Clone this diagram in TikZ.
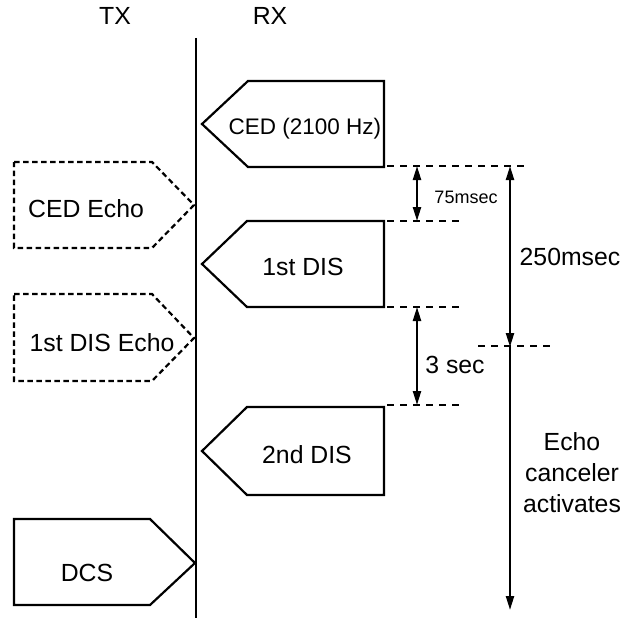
\documentclass[tikz,border=0pt]{standalone}
\usepackage{fontspec}
\setmainfont{Liberation Sans}
\usetikzlibrary{arrows.meta}
\begin{document}
\begin{tikzpicture}[x=1pt,y=-1pt,
  lbl/.style={anchor=base,inner sep=0pt,font=\fontsize{24.8}{30}\selectfont},
  box/.style={draw=black,line width=2.2pt,line join=miter},
  echobox/.style={box,dash pattern=on 5.5pt off 3.5pt},
  timeline/.style={draw=black,line width=2pt,dash pattern=on 7pt off 6pt},
  dimarrow/.style={draw=black,line width=2.2pt,{Triangle[length=14pt,width=8pt]}-{Triangle[length=14pt,width=8pt]}},
  downarrow/.style={draw=black,line width=2.2pt,-{Triangle[length=14pt,width=8pt]}}]
\useasboundingbox (0,0) rectangle (634,618);

% axis labels
\node[lbl] (tx) at (115,25) {TX};
\node[lbl] (rx) at (270,25) {RX};

% central line
\coordinate (ltop) at (196,38);
\coordinate (lbot) at (196,618);
\draw[line width=2pt] (ltop) -- (lbot);

% RX boxes
\draw[box] (202,124) -- (248,81) -- (384,81) -- (384,167) -- (248,167) -- cycle;
\node[lbl,font=\fontsize{22.5}{27}\selectfont] (ced) at (305,134) {CED (2100 Hz)};
\draw[box] (202,264) -- (247,221) -- (384,221) -- (384,307) -- (247,307) -- cycle;
\node[lbl] (dis1) at (303,275) {1st DIS};
\draw[box] (202,451) -- (247,407) -- (384,407) -- (384,495) -- (247,495) -- cycle;
\node[lbl] (dis2) at (307,463) {2nd DIS};

% TX boxes
\draw[echobox] (14,162) -- (152,162) -- (194,205) -- (152,248) -- (14,248) -- cycle;
\node[lbl] (cedecho) at (86,217) {CED Echo};
\draw[echobox] (14,294) -- (152,294) -- (194,338) -- (152,381) -- (14,381) -- cycle;
\node[lbl] (disecho) at (102,351) {1st DIS Echo};
\draw[box] (14,519) -- (150,519) -- (195,563) -- (150,605) -- (14,605) -- cycle;
\node[lbl] (dcs) at (87,581) {DCS};

% timing lines
\coordinate (a1) at (387,166); \coordinate (a2) at (525,166);
\coordinate (b1) at (387,221); \coordinate (b2) at (465,221);
\coordinate (c1) at (387,307); \coordinate (c2) at (465,307);
\coordinate (d1) at (478,346); \coordinate (d2) at (550,346);
\coordinate (e1) at (387,405); \coordinate (e2) at (465,405);
\draw[timeline] (a1) -- (a2);
\draw[timeline] (b1) -- (b2);
\draw[timeline] (c1) -- (c2);
\draw[timeline] (d1) -- (d2);
\draw[timeline] (e1) -- (e2);

% arrows
\coordinate (p1) at (417,166); \coordinate (p2) at (417,221);
\coordinate (q1) at (417,307); \coordinate (q2) at (417,405);
\coordinate (r1) at (510,166); \coordinate (r2) at (510,347);
\coordinate (s2) at (510,610);
\draw[dimarrow] (p1) -- (p2);
\draw[dimarrow] (q1) -- (q2);
\draw[dimarrow] (r1) -- (r2);
\draw[downarrow] (r2) -- (s2);

% timing labels
\node[lbl,font=\fontsize{18}{22}\selectfont] (t75) at (466,203) {75msec};
\node[lbl] (t250) at (570,265) {250msec};
\node[lbl] (t3) at (455,373) {3 sec};
\node[lbl,align=center,font=\fontsize{24.8}{31}\selectfont] (eca) at (572,512) {Echo\\canceler\\activates};
\end{tikzpicture}
\end{document}
